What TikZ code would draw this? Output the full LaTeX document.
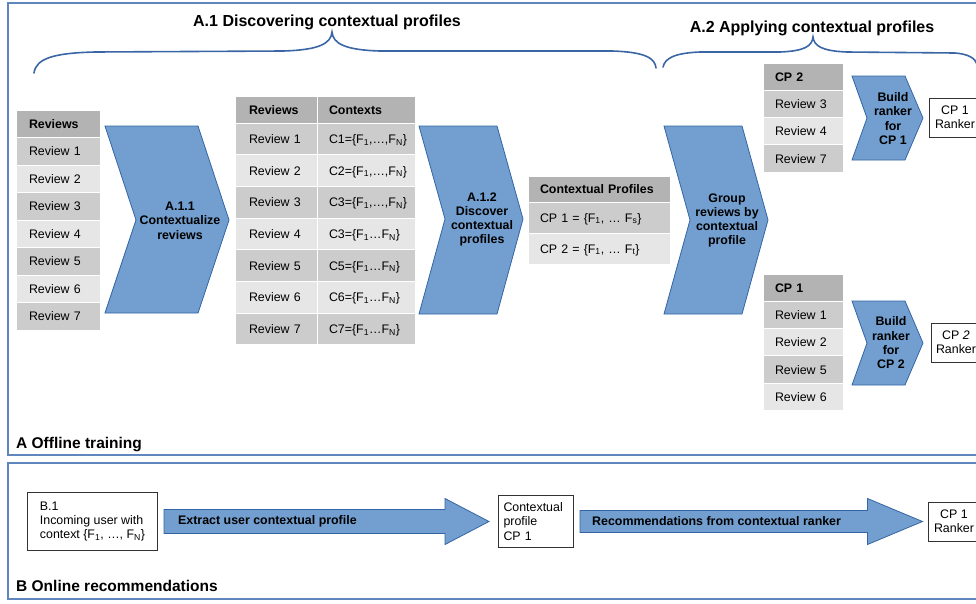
\documentclass[tikz,border=0pt]{standalone}
\usepackage{fontspec}
\setmainfont{Liberation Sans}
\usepackage{tikz}
\usetikzlibrary{positioning, calc}

\definecolor{bluefill}{HTML}{729FCF}
\definecolor{blueline}{HTML}{3465A4}
\definecolor{framecol}{RGB}{95,135,190}
\definecolor{bracecol}{RGB}{58,102,166}
\definecolor{headgray}{HTML}{B3B3B3}
\definecolor{rowdark}{HTML}{CCCCCC}
\definecolor{rowlight}{HTML}{E6E6E6}

\newcommand{\lowidx}[1]{\textsubscript{#1}}

\tikzset{
  txt/.style={font=\fontsize{12.4}{14.4}\selectfont},
  cell/.style={txt, rectangle, draw=white, line width=1pt, inner ysep=0pt, outer sep=0pt, align=left, text height=9pt, text depth=0pt},
  headcell/.style={cell, fill=headgray, font=\fontsize{12.4}{14.4}\selectfont\bfseries},
  darkcell/.style={cell, fill=rowdark},
  lightcell/.style={cell, fill=rowlight},
  revcol/.style={minimum width=84pt, text width=58pt, inner xsep=13pt, minimum height=27.5pt},
  midrev/.style={minimum width=82pt, text width=54pt, inner xsep=14pt, minimum height=31.7pt},
  midctx/.style={minimum width=98pt, text width=74pt, inner xsep=12pt, minimum height=31.7pt},
  profcol/.style={minimum width=142pt, text width=118pt, inner xsep=12pt, minimum height=31pt},
  cpcol/.style={minimum width=80pt, text width=56pt, inner xsep=12pt, minimum height=27.4pt},
  chevron/.style={fill=bluefill, draw=blueline, line width=0.8pt},
  chevtext/.style={font=\fontsize{12.4}{14.3}\selectfont\bfseries, align=center, inner sep=0pt},
  fatarrow/.style={fill=bluefill, draw=blueline, line width=0.8pt},
  arrowtext/.style={font=\fontsize{12.4}{14.4}\selectfont\bfseries, inner sep=0pt, anchor=west},
  plainbox/.style={txt, rectangle, draw=black!80, line width=1pt, fill=white, inner ysep=0pt, align=center},
  panel/.style={draw=framecol, line width=1.2pt},
  brace/.style={draw=bracecol, line width=1.6pt, line cap=round},
  title/.style={font=\fontsize{16}{19}\selectfont\bfseries, inner sep=0pt, anchor=base},
  section/.style={font=\fontsize{15.5}{18}\selectfont\bfseries, inner sep=0pt, anchor=base west}
}

\begin{document}
\begin{tikzpicture}[x=1pt, y=-1pt]
  \clip (0,0) rectangle (976,603);

  % Pannelli
  \draw[panel] (8,3) rectangle (990,455);
  \draw[panel] (8,463) rectangle (990,599);
  \node[section] (offline) at (16,448) {A Offline training};
  \node[section] (online) at (16,591) {B Online recommendations};

  % Titoli e graffe
  \node[title] (discovering) at (327,26) {A.1 Discovering contextual profiles};
  \node[title] (applying) at (812,32) {A.2 Applying contextual profiles};
  \draw[brace] (34,73) .. controls (36,58) and (55,53) .. (95,52) -- (283,51) .. controls (318,50) and (331,44) .. (332,32) .. controls (333,44) and (346,50) .. (380,51) -- (612,51) .. controls (645,52) and (655,58) .. (656,68);
  \draw[brace] (663,67) .. controls (665,58) and (675,53) .. (700,52) -- (780,52) .. controls (805,51) and (812,46) .. (813,37) .. controls (814,46) and (822,51) .. (847,52) -- (955,53) .. controls (968,54) and (975,58) .. (977,64);

  % Tabella recensioni
  \node[headcell, revcol, anchor=north west] (revhead) at (16,110) {Reviews};
  \node[darkcell, revcol, below=0pt of revhead] (rev1) {Review 1};
  \node[lightcell, revcol, below=0pt of rev1] (rev2) {Review 2};
  \node[darkcell, revcol, below=0pt of rev2] (rev3) {Review 3};
  \node[lightcell, revcol, below=0pt of rev3] (rev4) {Review 4};
  \node[darkcell, revcol, below=0pt of rev4] (rev5) {Review 5};
  \node[lightcell, revcol, below=0pt of rev5] (rev6) {Review 6};
  \node[darkcell, revcol, below=0pt of rev6] (rev7) {Review 7};

  % A.1.1
  \draw[chevron] (105,126) -- (198,126) -- (229,220) -- (198,313) -- (105,313) -- (136,220) -- cycle;
  \node[chevtext] (contextualize) at (180,220.5) {A.1.1\\Contextualize\\reviews};

  % Tabella contesti
  \node[headcell, midrev, minimum height=27pt, anchor=north west] (mrevhead) at (235,96) {Reviews};
  \node[headcell, midctx, minimum height=27pt, right=0pt of mrevhead] (ctxhead) {Contexts};
  \node[darkcell, midrev, below=0pt of mrevhead] (mrev1) {Review 1};
  \node[darkcell, midctx, right=0pt of mrev1] (ctx1) {C1=\{F\lowidx{1},…,F\lowidx{N}\}};
  \node[lightcell, midrev, below=0pt of mrev1] (mrev2) {Review 2};
  \node[lightcell, midctx, right=0pt of mrev2] (ctx2) {C2=\{F\lowidx{1},…,F\lowidx{N}\}};
  \node[darkcell, midrev, below=0pt of mrev2] (mrev3) {Review 3};
  \node[darkcell, midctx, right=0pt of mrev3] (ctx3) {C3=\{F\lowidx{1},…,F\lowidx{N}\}};
  \node[lightcell, midrev, below=0pt of mrev3] (mrev4) {Review 4};
  \node[lightcell, midctx, right=0pt of mrev4] (ctx4) {C3=\{F\lowidx{1}…F\lowidx{N}\}};
  \node[darkcell, midrev, below=0pt of mrev4] (mrev5) {Review 5};
  \node[darkcell, midctx, right=0pt of mrev5] (ctx5) {C5=\{F\lowidx{1}…F\lowidx{N}\}};
  \node[lightcell, midrev, below=0pt of mrev5] (mrev6) {Review 6};
  \node[lightcell, midctx, right=0pt of mrev6] (ctx6) {C6=\{F\lowidx{1}…F\lowidx{N}\}};
  \node[darkcell, midrev, below=0pt of mrev6] (mrev7) {Review 7};
  \node[darkcell, midctx, right=0pt of mrev7] (ctx7) {C7=\{F\lowidx{1}…F\lowidx{N}\}};

  % A.1.2
  \draw[chevron] (419,126) -- (497,126) -- (523,219) -- (497,314) -- (419,314) -- (445,219) -- cycle;
  \node[chevtext] (discover) at (482,219.5) {A.1.2\\Discover\\contextual\\profiles};

  % Profili contestuali
  \node[headcell, profcol, minimum height=26pt, anchor=north west] (profhead) at (528,176) {Contextual Profiles};
  \node[darkcell, profcol, below=0pt of profhead] (prof1) {CP 1 = \{F\lowidx{1}, … F\lowidx{s}\}};
  \node[lightcell, profcol, below=0pt of prof1] (prof2) {CP 2 = \{F\lowidx{1}, … F\lowidx{t}\}};

  % Raggruppamento
  \draw[chevron] (664,126) -- (742,126) -- (768,220) -- (742,314) -- (664,314) -- (690,220) -- cycle;
  \node[chevtext] (group) at (727,220.5) {Group\\reviews by\\contextual\\profile};

  % Gruppo CP 2
  \node[headcell, cpcol, minimum height=27pt, anchor=north west] (cptwohead) at (763,63) {CP 2};
  \node[darkcell, cpcol, below=0pt of cptwohead] (cptwoa) {Review 3};
  \node[lightcell, cpcol, below=0pt of cptwoa] (cptwob) {Review 4};
  \node[darkcell, cpcol, below=0pt of cptwob] (cptwoc) {Review 7};

  \draw[chevron] (852,76) -- (905,76) -- (923,118) -- (905,160) -- (852,160) -- (867,118) -- cycle;
  \node[chevtext] (buildone) at (893,118.5) {Build\\ranker\\for\\CP 1};
  \node[plainbox, minimum width=52pt, minimum height=39pt] (rankertop) at (955,117.5) {CP 1\\Ranker};

  % Gruppo CP 1
  \node[headcell, cpcol, minimum height=27pt, anchor=north west] (cponehead) at (763,274) {CP 1};
  \node[darkcell, cpcol, below=0pt of cponehead] (cponea) {Review 1};
  \node[lightcell, cpcol, below=0pt of cponea] (cponeb) {Review 2};
  \node[darkcell, cpcol, below=0pt of cponeb] (cponec) {Review 5};
  \node[lightcell, cpcol, below=0pt of cponec] (cponed) {Review 6};

  \draw[chevron] (852,301) -- (905,301) -- (923,343) -- (905,385) -- (852,385) -- (867,343) -- cycle;
  \node[chevtext] (buildtwo) at (891,343) {Build\\ranker\\for\\CP 2};
  \node[plainbox, minimum width=50pt, minimum height=39pt] (rankermid) at (956,342.5) {CP \textit{2}\\Ranker};

  % Raccomandazioni online
  \node[plainbox, align=left, inner xsep=0pt, minimum width=130pt, minimum height=58pt, anchor=north west] (userbox) at (27,492) {B.1\\Incoming user with\\context \{F\lowidx{1}, …, F\lowidx{N}\}};
  \node[plainbox, align=left, text width=65pt, inner xsep=5pt, minimum height=52pt, anchor=north west] (profilebox) at (498,495) {Contextual\\profile\\CP 1};
  \node[plainbox, minimum width=52pt, minimum height=39pt] (rankerlow) at (954,521.5) {CP 1\\Ranker};

  \draw[fatarrow] ($(userbox.east)+(6,-12)$) -- ($(profilebox.west)+(-53,-12)$) -- ($(profilebox.west)+(-53,-23)$) -- ($(profilebox.west)+(-9,0)$) -- ($(profilebox.west)+(-53,23)$) -- ($(profilebox.west)+(-53,12)$) -- ($(userbox.east)+(6,12)$) -- cycle;
  \node[arrowtext] (extract) at ($(userbox.east)+(20,0)$) {Extract user contextual profile};

  \draw[fatarrow] ($(profilebox.east)+(6,-11)$) -- ($(rankerlow.west)+(-60,-11)$) -- ($(rankerlow.west)+(-60,-23)$) -- ($(rankerlow.west)+(-5,0)$) -- ($(rankerlow.west)+(-60,23)$) -- ($(rankerlow.west)+(-60,11)$) -- ($(profilebox.east)+(6,11)$) -- cycle;
  \node[arrowtext] (recommend) at ($(profilebox.east)+(18,0)$) {Recommendations from contextual ranker};
\end{tikzpicture}
\end{document}
